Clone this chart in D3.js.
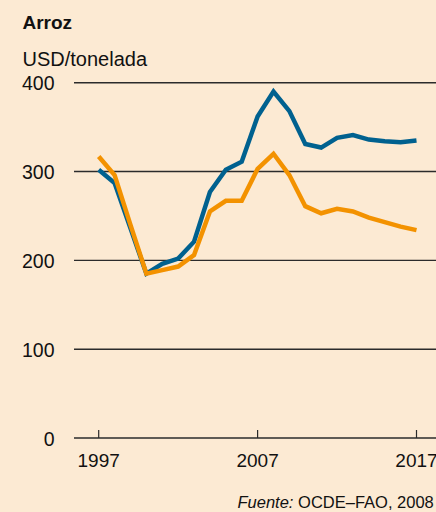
<!DOCTYPE html>
<html>
<head>
<meta charset="utf-8">
<script src="https://cdn.jsdelivr.net/npm/d3@7"></script>
<style>
  html, body { margin: 0; padding: 0; background: #fcead3; }
  svg { display: block; font-family: "Liberation Sans", Arial, Helvetica, sans-serif; }
</style>
</head>
<body>
<svg id="chart" width="436" height="512"></svg>
<script>
// Rice price series, USD per tonne, yearly 1997–2017
const years = d3.range(1997, 2018);
const seriesBlue = [302, 287, 236, 185, 196, 202, 221, 277, 302, 311, 362, 390, 368, 331, 327, 338, 341, 336, 334, 333, 335];
const seriesOrange = [317, 296, 240, 185, 189, 193, 206, 255, 267, 267, 303, 320, 296, 261, 253, 258, 255, 248, 243, 238, 234];
const yTicks = [0, 100, 200, 300, 400];
const xTicks = [1997, 2007, 2017];

const svg = d3.select("#chart");
const W = 436;

const x = d3.scaleLinear().domain([1997, 2017]).range([98.7, 416.5]);
const y = d3.scaleLinear().domain([0, 400]).range([438, 82.7]);

// Titles
svg.append("text").attr("x", 22.5).attr("y", 29)
  .attr("font-size", 19).attr("font-weight", "bold").attr("fill", "#111")
  .text("Arroz");
svg.append("text").attr("x", 22.5).attr("y", 65.7)
  .attr("font-size", 20).attr("fill", "#111")
  .text("USD/tonelada");

// Horizontal grid lines with value labels
const grid = svg.append("g");
grid.selectAll("line").data(yTicks).join("line")
  .attr("x1", 74).attr("x2", W)
  .attr("y1", d => y(d)).attr("y2", d => y(d))
  .attr("stroke", "#2b2b2b").attr("stroke-width", 1.4);
grid.selectAll("text").data(yTicks).join("text")
  .attr("x", 54.5).attr("y", d => y(d) + 7.5)
  .attr("text-anchor", "end").attr("font-size", 19.5).attr("fill", "#111")
  .text(d => d);

// Year ticks on the baseline
const xAxis = svg.append("g");
xAxis.selectAll("line").data(xTicks).join("line")
  .attr("x1", d => x(d)).attr("x2", d => x(d))
  .attr("y1", y(0)).attr("y2", y(0) - 8)
  .attr("stroke", "#2b2b2b").attr("stroke-width", 1.2);
xAxis.selectAll("text").data(xTicks).join("text")
  .attr("x", d => x(d)).attr("y", 467)
  .attr("text-anchor", "middle").attr("font-size", 19).attr("fill", "#111")
  .text(d => d);

// Series lines
const line = d3.line().x((d, i) => x(years[i])).y(d => y(d));
svg.append("path").datum(seriesBlue)
  .attr("d", line).attr("fill", "none")
  .attr("stroke", "#00618f").attr("stroke-width", 4.5)
  .attr("stroke-linejoin", "miter");
svg.append("path").datum(seriesOrange)
  .attr("d", line).attr("fill", "none")
  .attr("stroke", "#f39200").attr("stroke-width", 4.5)
  .attr("stroke-linejoin", "miter");

// Source note
const src = svg.append("text").attr("x", 237.5).attr("y", 507.5)
  .attr("font-size", 16.5).attr("fill", "#111");
src.append("tspan").attr("font-style", "italic").text("Fuente:");
src.append("tspan").text(" OCDE–FAO, 2008");
</script>
</body>
</html>
